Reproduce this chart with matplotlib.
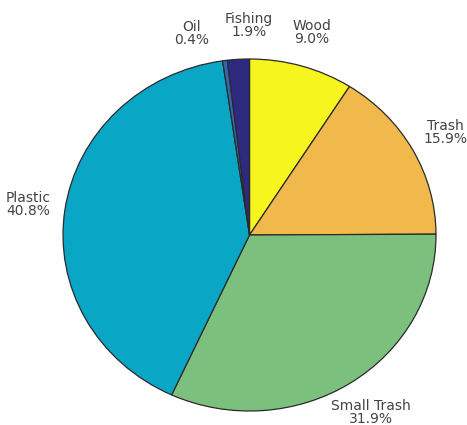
import numpy as np
import matplotlib
matplotlib.use('Agg')
import matplotlib.pyplot as plt

# clockwise from 12 o'clock
labels = ['Wood', 'Trash', 'Small Trash', 'Plastic', 'Oil', 'Fishing']
shares = [9.0, 15.9, 31.9, 40.8, 0.4, 1.9]
colors = ['#f6f61e', '#f1b84b', '#7cc07e', '#09a6c6', '#3566b2', '#2e2a80']


def main():
    fig = plt.figure(figsize=(4.67, 4.25), dpi=100)
    ax = fig.add_axes([0, 0, 1, 1])

    wedges, _ = ax.pie(shares, colors=colors, startangle=90, counterclock=False,
                       wedgeprops=dict(edgecolor='#2a2a2a', linewidth=0.9))
    ax.set_aspect('auto')
    ax.set_xlim(-249.5 / 186.5, (467 - 249.5) / 186.5)
    ax.set_ylim(-(425 - 235) / 176, 235 / 176)

    # small slices at the top get nudged apart so the labels don't collide
    nudge = {'Oil': (-0.15, -0.045), 'Fishing': (0.07, -0.01)}
    for w, name, pct in zip(wedges, labels, shares):
        ang = np.deg2rad((w.theta1 + w.theta2) / 2)
        x, y = 1.2 * np.cos(ang), 1.2 * np.sin(ang)
        dx, dy = nudge.get(name, (0, 0))
        ax.text(x + dx, y + dy, f'{name}\n{pct:.1f}%', ha='center', va='center',
                fontsize=10, color='#444444', linespacing=0.92)

    fig.savefig('out.png', dpi=100)


if __name__ == '__main__':
    main()
